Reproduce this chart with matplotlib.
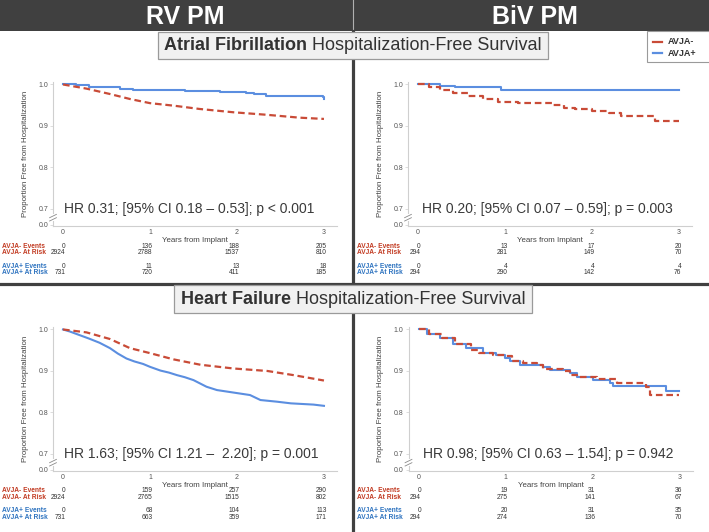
import matplotlib
matplotlib.use('Agg')
import matplotlib.pyplot as plt
from matplotlib import font_manager
from matplotlib.patches import Rectangle
from matplotlib.lines import Line2D
import matplotlib.transforms as mtransforms

W, H, DPI = 709, 532, 100

names = {f.name for f in font_manager.fontManager.ttflist}
NARROW = 'Liberation Sans Narrow' in names
BASE = 'Liberation Sans' if 'Liberation Sans' in names else 'DejaVu Sans'
plt.rcParams['font.family'] = [BASE, 'DejaVu Sans']
HEAD_FAM = ['Liberation Sans Narrow', BASE, 'DejaVu Sans'] if NARROW else [BASE, 'DejaVu Sans']

# ---------------- data ----------------
col_titles = ["RV PM", "BiV PM"]
row_titles = [("Atrial Fibrillation", " Hospitalization-Free Survival"),
              ("Heart Failure", " Hospitalization-Free Survival")]
groups = ["AVJA-", "AVJA+"]
risk_times = [0, 1, 2, 3]
ytick_vals = [0.662, 0.7, 0.8, 0.9, 1.0]
ytick_labels = ["0.0", "0.7", "0.8", "0.9", "1.0"]

# RV PM, AF
af_rv_neg_t = [0, 0.27, 0.54, 0.77, 1.0, 1.27, 1.57, 1.96, 2.34, 2.72, 3.0]
af_rv_neg_s = [1.0, 0.99, 0.977, 0.965, 0.955, 0.949, 0.941, 0.933, 0.927, 0.920, 0.917]
af_rv_pos_t = [0, 0.15, 0.3, 0.45, 0.65, 0.8, 1.0, 1.4, 1.8, 2.0, 2.1, 2.2, 2.33, 2.99, 3.0]
af_rv_pos_s = [1.0, 0.998, 0.995, 0.993, 0.989, 0.987, 0.986, 0.985, 0.983, 0.981, 0.979, 0.977, 0.973, 0.971, 0.966]
# BiV PM, AF
af_biv_neg_t = [0, 0.13, 0.25, 0.4, 0.58, 0.75, 0.92, 1.15, 1.55, 1.68, 1.8, 2.0, 2.2, 2.33, 2.73, 3.0]
af_biv_neg_s = [1.0, 0.993, 0.986, 0.979, 0.972, 0.965, 0.958, 0.955, 0.951, 0.944, 0.940, 0.937, 0.931, 0.923, 0.913, 0.913]
af_biv_pos_t = [0, 0.25, 0.42, 0.95, 3.0]
af_biv_pos_s = [1.0, 0.997, 0.993, 0.986, 0.986]
# RV PM, HF
hf_rv_neg_t = [0, 0.27, 0.54, 0.77, 1.0, 1.27, 1.58, 1.96, 2.35, 2.65, 3.0]
hf_rv_neg_s = [1.0, 0.993, 0.977, 0.955, 0.943, 0.928, 0.915, 0.906, 0.900, 0.890, 0.877]
hf_rv_pos_t = [0, 0.08, 0.17, 0.3, 0.42, 0.54, 0.63, 0.73, 0.82, 0.92, 1.0, 1.12, 1.22, 1.31, 1.4,
               1.5, 1.65, 1.77, 1.96, 2.15, 2.27, 2.46, 2.62, 2.88, 3.0]
hf_rv_pos_s = [1.0, 0.995, 0.988, 0.978, 0.968, 0.955, 0.942, 0.930, 0.923, 0.917, 0.910, 0.901, 0.896,
               0.890, 0.885, 0.878, 0.862, 0.854, 0.848, 0.842, 0.830, 0.826, 0.822, 0.819, 0.816]
# BiV PM, HF
hf_biv_neg_t = [0, 0.12, 0.27, 0.42, 0.6, 0.7, 0.86, 1.0, 1.08, 1.2, 1.36, 1.43, 1.66, 1.74, 1.82,
                2.05, 2.28, 2.62, 2.66, 3.0]
hf_biv_neg_s = [1.0, 0.99, 0.98, 0.966, 0.951, 0.944, 0.939, 0.935, 0.925, 0.919, 0.915, 0.904, 0.901,
                0.890, 0.885, 0.880, 0.870, 0.862, 0.842, 0.842]
hf_biv_pos_t = [0, 0.1, 0.25, 0.4, 0.55, 0.74, 0.89, 1.0, 1.05, 1.17, 1.43, 1.51, 1.74, 1.82, 2.01,
                2.2, 2.24, 2.85, 3.0]
hf_biv_pos_s = [1.0, 0.99, 0.98, 0.966, 0.955, 0.943, 0.939, 0.931, 0.923, 0.915, 0.909, 0.902, 0.894,
                0.885, 0.878, 0.870, 0.864, 0.852, 0.852]

# risk tables
af_rv_neg_events = [0, 136, 188, 205]
af_rv_neg_risk = [2924, 2788, 1537, 810]
af_rv_pos_events = [0, 11, 13, 18]
af_rv_pos_risk = [731, 720, 411, 185]
af_biv_neg_events = [0, 13, 17, 20]
af_biv_neg_risk = [294, 281, 149, 70]
af_biv_pos_events = [0, 4, 4, 4]
af_biv_pos_risk = [294, 290, 142, 76]
hf_rv_neg_events = [0, 159, 257, 290]
hf_rv_neg_risk = [2924, 2765, 1515, 802]
hf_rv_pos_events = [0, 68, 104, 113]
hf_rv_pos_risk = [731, 663, 359, 171]
hf_biv_neg_events = [0, 19, 31, 36]
hf_biv_neg_risk = [294, 275, 141, 67]
hf_biv_pos_events = [0, 20, 31, 35]
hf_biv_pos_risk = [294, 274, 136, 70]

hr_texts = ["HR 0.31; [95% CI 0.18 \u2013 0.53]; p < 0.001",
            "HR 0.20; [95% CI 0.07 \u2013 0.59]; p = 0.003",
            "HR 1.63; [95% CI 1.21 \u2013  2.20]; p = 0.001",
            "HR 0.98; [95% CI 0.63 \u2013 1.54]; p = 0.942"]

# ---------------- styling ----------------
RED = '#C94B37'
BLUE = '#5B8EE0'
LBL_RED = '#C23B22'
LBL_BLUE = '#2F74C0'
DARK = '#404040'

fig = plt.figure(figsize=(W / DPI, H / DPI), dpi=DPI)
fig.patch.set_facecolor('white')


def fx(px):
    return px / W


def fy(py):
    return 1 - py / H


# header band
fig.add_artist(Rectangle((0, fy(31)), 1, 31 / H, transform=fig.transFigure,
                         facecolor=DARK, edgecolor='none', zorder=0))
fig.add_artist(Line2D([fx(352.5), fx(352.5)], [fy(0), fy(31)], transform=fig.transFigure,
                      color='#b0b0b0', lw=0.8, zorder=1))
fig.add_artist(Line2D([fx(352.5), fx(352.5)], [fy(31), fy(532)], transform=fig.transFigure,
                      color=DARK, lw=2.3, zorder=1))
fig.add_artist(Line2D([0, 1], [fy(283.5), fy(283.5)], transform=fig.transFigure,
                      color=DARK, lw=2.3, zorder=1))

head_size = 21 if NARROW else 18
fig.text(fx(185), fy(16.5), col_titles[0], color='white', fontsize=head_size, fontweight='bold',
         family=HEAD_FAM, ha='center', va='center')
fig.text(fx(535), fy(16.5), col_titles[1], color='white', fontsize=head_size, fontweight='bold',
         family=HEAD_FAM, ha='center', va='center')

renderer = fig.canvas.get_renderer()
title_size = 15.5 if NARROW else 13


def title_box(x0, x1, y0, y1, bold, regular):
    fig.add_artist(Rectangle((fx(x0), fy(y1)), (x1 - x0) / W, (y1 - y0) / H,
                             transform=fig.transFigure, facecolor='#f1f1f1',
                             edgecolor='#9a9a9a', lw=0.9, zorder=5))
    yc = fy((y0 + y1) / 2)
    t1 = fig.text(0, yc, bold, fontsize=title_size, fontweight='bold', family=HEAD_FAM,
                  color='#333333', ha='left', va='center', zorder=6)
    t2 = fig.text(0, yc, regular, fontsize=title_size, family=HEAD_FAM,
                  color='#333333', ha='left', va='center', zorder=6)
    w1 = t1.get_window_extent(renderer).width
    w2 = t2.get_window_extent(renderer).width
    start = (x0 + x1) / 2 - (w1 + w2) / 2
    t1.set_x(fx(start))
    t2.set_x(fx(start + w1))


title_box(158, 548, 32, 59, *row_titles[0])
title_box(174, 532, 285, 313, *row_titles[1])

# legend
fig.add_artist(Rectangle((fx(647), fy(62)), 64 / W, 31 / H, transform=fig.transFigure,
                         facecolor='white', edgecolor='#9a9a9a', lw=0.8, zorder=5))
for gi, (g, c, yy) in enumerate(zip(groups, [RED, BLUE], [42, 53.3])):
    fig.add_artist(Line2D([fx(653), fx(662)], [fy(yy), fy(yy)], transform=fig.transFigure,
                          color=c, lw=1.6, zorder=6))
    fig.text(fx(668), fy(yy), g, fontsize=6.5, fontweight='bold', color='#333333',
             ha='left', va='center', zorder=6)

XLIM = (-0.115, 3.15)
YLIM = (0.659, 1.005)

panels = [
    dict(left=53, bottom=226, top=82.4, lbl_x=2,
         neg=(af_rv_neg_t, af_rv_neg_s), pos=(af_rv_pos_t, af_rv_pos_s), neg_step=False, pos_step=True,
         tab=(af_rv_neg_events, af_rv_neg_risk, af_rv_pos_events, af_rv_pos_risk), hr=hr_texts[0], hrx=0.01),
    dict(left=408, bottom=226, top=82.4, lbl_x=357,
         neg=(af_biv_neg_t, af_biv_neg_s), pos=(af_biv_pos_t, af_biv_pos_s), neg_step=True, pos_step=True,
         tab=(af_biv_neg_events, af_biv_neg_risk, af_biv_pos_events, af_biv_pos_risk), hr=hr_texts[1], hrx=0.05),
    dict(left=53, bottom=471, top=327.4, lbl_x=2,
         neg=(hf_rv_neg_t, hf_rv_neg_s), pos=(hf_rv_pos_t, hf_rv_pos_s), neg_step=False, pos_step=False,
         tab=(hf_rv_neg_events, hf_rv_neg_risk, hf_rv_pos_events, hf_rv_pos_risk), hr=hr_texts[2], hrx=0.01),
    dict(left=408.5, bottom=471, top=327.4, lbl_x=357,
         neg=(hf_biv_neg_t, hf_biv_neg_s), pos=(hf_biv_pos_t, hf_biv_pos_s), neg_step=True, pos_step=True,
         tab=(hf_biv_neg_events, hf_biv_neg_risk, hf_biv_pos_events, hf_biv_pos_risk), hr=hr_texts[3], hrx=0.05),
]

row_labels = ["AVJA- Events", "AVJA- At Risk", "AVJA+ Events", "AVJA+ At Risk"]
row_colors = [LBL_RED, LBL_RED, LBL_BLUE, LBL_BLUE]
row_offsets = [20, 26.8, 40, 46.6]

for p in panels:
    hpx = p['bottom'] - p['top']
    ax = fig.add_axes([fx(p['left']), fy(p['bottom']), 284 / W, hpx / H])
    ax.set_facecolor('none')
    ax.set_xlim(*XLIM)
    ax.set_ylim(*YLIM)
    for s in ['top', 'right']:
        ax.spines[s].set_visible(False)
    for s in ['left', 'bottom']:
        ax.spines[s].set_color('#cfcfcf')
        ax.spines[s].set_linewidth(0.8)
    ax.set_xticks(risk_times)
    ax.set_xticklabels([str(t) for t in risk_times])
    ax.set_yticks(ytick_vals)
    ax.set_yticklabels(ytick_labels)
    ax.tick_params(axis='x', length=0, pad=2.2, labelsize=5, labelcolor='#555555')
    ax.tick_params(axis='y', length=2, width=0.5, color='#cfcfcf', pad=1.5, labelsize=5,
                   labelcolor='#555555')
    ax.set_xlabel("Years from Implant", fontsize=5.7, color='#444444')
    ax.xaxis.set_label_coords(0.5, -11 / hpx)
    ax.set_ylabel("Proportion Free from Hospitalization", fontsize=5.7, color='#444444')
    ax.yaxis.set_label_coords(-24 / 284, 0.5)

    nt, ns = p['neg']
    pt, ps = p['pos']
    if p['pos_step']:
        ax.step(pt, ps, where='post', color=BLUE, lw=1.5, zorder=3)
    else:
        ax.plot(pt, ps, color=BLUE, lw=1.5, zorder=3)
    if p['neg_step']:
        ax.step(nt, ns, where='post', color=RED, lw=1.6, linestyle=(0, (3, 1.7)), zorder=4)
    else:
        ax.plot(nt, ns, color=RED, lw=1.6, linestyle=(0, (3, 1.7)), zorder=4)

    ax.text(p['hrx'], 0.701, p['hr'], fontsize=10, color='#3a3a3a', ha='left', va='center')

    # axis break marker
    bt = mtransforms.blended_transform_factory(ax.transAxes, ax.transData)
    ax.add_patch(Rectangle((-0.01, 0.672), 0.02, 0.016, transform=bt, facecolor='white',
                           edgecolor='none', clip_on=False, zorder=5))
    for yy in (0.671, 0.679):
        ax.add_line(Line2D([-0.012, 0.012], [yy, yy + 0.008], transform=bt, color='#8a8a8a',
                           lw=0.6, clip_on=False, zorder=6))

    # risk table
    tr = mtransforms.blended_transform_factory(ax.transData, fig.transFigure)
    rows = p['tab']
    for ri in range(4):
        ypx = p['bottom'] + row_offsets[ri]
        fig.text(fx(p['lbl_x']), fy(ypx), row_labels[ri], fontsize=4.8, fontweight='bold',
                 color=row_colors[ri], ha='left', va='center')
        for t, v in zip(risk_times, rows[ri]):
            ax.text(t + 0.03, fy(ypx), str(v), transform=tr, fontsize=4.8, color='#333333',
                    ha='right', va='center', clip_on=False)

fig.savefig('out.png', dpi=DPI, facecolor='white')
